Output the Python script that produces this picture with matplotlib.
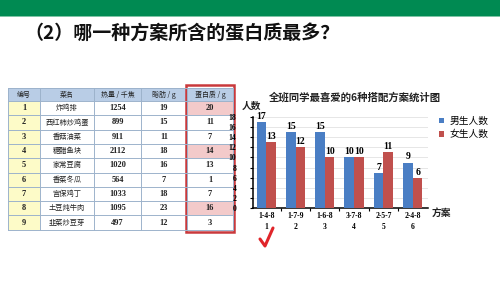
import numpy as np
import matplotlib
matplotlib.use("Agg")
import matplotlib.pyplot as plt
from matplotlib.patches import Rectangle
from matplotlib.lines import Line2D

plt.rcParams['font.family'] = ['Noto Sans CJK SC', 'DejaVu Sans']

# table data
headers = ["编号", "菜名", "热量 / 千焦", "脂肪 / g", "蛋白质 / g"]
ids = [1, 2, 3, 4, 5, 6, 7, 8, 9]
dishes = ["炸鸡排", "西红柿炒鸡蛋", "香菇油菜", "糖醋鱼块", "家常豆腐",
          "香菜冬瓜", "宫保鸡丁", "土豆炖牛肉", "韭菜炒豆芽"]
heat = [1254, 899, 911, 2112, 1020, 564, 1033, 1095, 497]
fat = [19, 15, 11, 18, 16, 7, 18, 23, 12]
protein = [20, 11, 7, 14, 13, 1, 7, 16, 3]
picked = [1, 4, 8]

# chart data
plans = ["1-4-8", "1-7-9", "1-6-8", "3-7-8", "2-5-7", "2-4-8"]
plan_no = ["1", "2", "3", "4", "5", "6"]
boys = [17, 15, 15, 10, 7, 9]
girls = [13, 12, 10, 10, 11, 6]

W, H = 500, 281
fig = plt.figure(figsize=(W / 100, H / 100), dpi=100)
bg = fig.add_axes([0, 0, 1, 1])
bg.set_xlim(0, W)
bg.set_ylim(H, 0)
bg.axis('off')

# top banner + question
bg.add_patch(Rectangle((0, 0), W, 16, color='#008a52', lw=0))
bg.add_patch(Rectangle((0, 16), W, 1.2, color='#7fc4a6', lw=0))
bg.text(24, 33, "（2）哪一种方案所含的蛋白质最多？", fontsize=13.7,
        fontweight='bold', va='center', ha='left', color='#111111')

# table
col_x = [8, 40, 94, 141, 187, 233]
top, hh, rh = 88, 13, 14.3
grid_c = '#9db3cc'
serif = ['Liberation Serif', 'DejaVu Serif']
bg.add_patch(Rectangle((col_x[0], top), col_x[-1] - col_x[0], hh,
                       facecolor='#b9cde6', edgecolor='none'))
for j, h in enumerate(headers):
    bg.text((col_x[j] + col_x[j + 1]) / 2, top + hh / 2, h, fontsize=5,
            ha='center', va='center', color='#222222')
for i in range(9):
    y0 = top + hh + i * rh
    bg.add_patch(Rectangle((col_x[0], y0), col_x[1] - col_x[0], rh,
                           facecolor='#fdfbc8', edgecolor='none'))
    if ids[i] in picked:
        bg.add_patch(Rectangle((col_x[4], y0), col_x[5] - col_x[4], rh,
                               facecolor='#f3caca', edgecolor='none'))
    cells = [str(ids[i]), dishes[i], str(heat[i]), str(fat[i]), str(protein[i])]
    for j, c in enumerate(cells):
        cx = (col_x[j] + col_x[j + 1]) / 2
        if j == 1:
            bg.text(cx, y0 + rh / 2, c, fontsize=5.2, ha='center', va='center',
                    color='#222222')
        else:
            bg.text(cx, y0 + rh / 2, c, fontsize=6, ha='center', va='center',
                    family=serif, fontweight='bold', color='#222222')
bottom = top + hh + 9 * rh
for k in range(11):
    yy = top + hh + (k - 1) * rh if k > 0 else top
    bg.plot([col_x[0], col_x[-1]], [yy, yy], color=grid_c, lw=0.7)
for xx in col_x:
    bg.plot([xx, xx], [top, bottom], color=grid_c, lw=0.7)
bg.add_patch(Rectangle((185.5, 85), 48, bottom - 85 + 2.5, facecolor='none',
                       edgecolor='#c9393c', lw=1.8))

# bar chart
ax = fig.add_axes([253 / W, 1 - 208 / H, 175 / W, 91 / H])
x = np.arange(len(plans))
bw = 0.33
b1 = ax.bar(x - bw / 2, boys, bw, color='#4a7ec4', label='男生人数', zorder=3)
b2 = ax.bar(x + bw / 2, girls, bw, color='#c0504d', label='女生人数', zorder=3)
for bars in (b1, b2):
    for r in bars:
        ax.text(r.get_x() + r.get_width() / 2, r.get_height() + 0.2,
                str(int(r.get_height())), ha='center', va='bottom',
                fontsize=7, family=serif, fontweight='bold')
ax.set_xlim(-0.45, 5.52)
ax.set_ylim(0, 18)
ax.set_yticks(range(0, 19, 2))
ax.set_yticklabels([str(v) for v in range(0, 19, 2)], family=serif,
                   fontweight='bold', fontsize=5.5)
ax.set_xticks(x)
ax.set_xticklabels([p + "\n" + n for p, n in zip(plans, plan_no)],
                   family=serif, fontweight='bold', fontsize=5.5,
                   linespacing=1.5)
ax.set_xticks(x[:-1] + 0.5, minor=True)
ax.tick_params(axis='x', which='major', length=0, pad=3)
ax.tick_params(axis='x', which='minor', length=2, width=0.8)
ax.tick_params(axis='y', length=2, width=0.8, pad=10)
ax.grid(axis='y', color='#e2e2e2', lw=0.6, zorder=0)
for s in ('top', 'right'):
    ax.spines[s].set_visible(False)
ax.spines['left'].set_linewidth(1.1)
ax.spines['bottom'].set_linewidth(1.1)
ax.legend(loc='upper left', bbox_to_anchor=(434 / W, 1 - 111 / H),
          bbox_transform=fig.transFigure, frameon=False, fontsize=7,
          handlelength=0.5, handleheight=0.5, handletextpad=0.6,
          labelspacing=0.35, borderpad=0)

bg.text(355, 97, "全班同学最喜爱的6种搭配方案统计图", fontsize=7.5,
        fontweight='bold', ha='center', va='center', color='#222222')
bg.text(242, 106, "人数", fontsize=7, fontweight='bold', ha='left',
        va='center', color='#222222')
bg.text(432, 213, "方案", fontsize=7, fontweight='bold', ha='left',
        va='center', color='#222222')

# red check mark
bg.add_artist(Line2D([260, 265, 273], [239, 246, 228], color='#e0252a',
                     lw=2.2, solid_capstyle='round', solid_joinstyle='round'))

bg.set_zorder(0)
ax.set_zorder(1)
fig.savefig("out.png", dpi=100)
